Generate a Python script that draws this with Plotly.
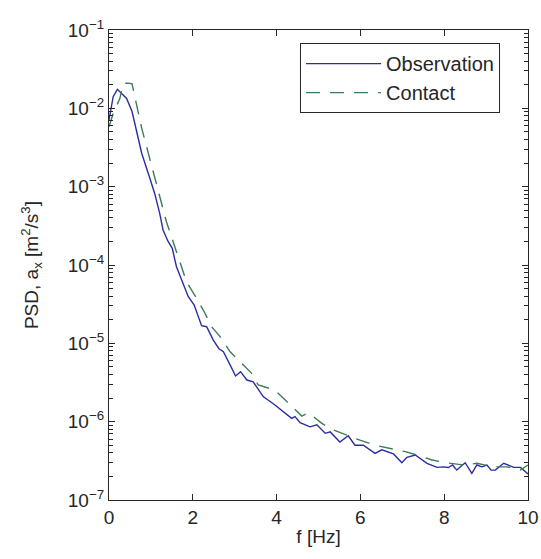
import plotly.graph_objects as go

# Observation (solid blue)
obs_f = [0.0, 0.1, 0.2, 0.42, 0.55, 0.66, 0.78, 0.975, 1.09, 1.21, 1.29, 1.41, 1.51, 1.61,
         1.73, 1.89, 2.03, 2.21, 2.33, 2.49, 2.62, 2.73, 2.89, 3.02, 3.14, 3.29, 3.44, 3.68,
         3.96, 4.16, 4.36, 4.44, 4.56, 4.80, 4.96, 5.16, 5.28, 5.51, 5.71, 5.87, 6.07, 6.35,
         6.51, 6.79, 6.99, 7.11, 7.31, 7.59, 7.83, 7.98, 8.10, 8.20, 8.30, 8.50, 8.66, 8.78,
         8.90, 9.02, 9.12, 9.22, 9.42, 9.66, 9.82, 10.0]
obs_psd = [7.1e-3, 1.41e-2, 1.75e-2, 1.34e-2, 9.1e-3, 5.0e-3, 2.67e-3, 1.28e-3, 8.2e-4, 4.57e-4,
           2.8e-4, 2.0e-4, 1.63e-4, 9.5e-5, 6.45e-5, 3.96e-5, 3.1e-5, 1.68e-5, 1.63e-5, 1.1e-5,
           8.6e-6, 7.8e-6, 5.3e-6, 3.83e-6, 4.35e-6, 3.4e-6, 3.23e-6, 2.09e-6, 1.63e-6, 1.34e-6,
           1.1e-6, 1.16e-6, 9.7e-7, 8.6e-7, 9.1e-7, 7.1e-7, 7.4e-7, 5.5e-7, 6.6e-7, 5.0e-7,
           5.0e-7, 3.94e-7, 4.37e-7, 3.87e-7, 2.99e-7, 3.5e-7, 3.75e-7, 2.94e-7, 2.61e-7, 2.65e-7,
           2.6e-7, 2.8e-7, 2.41e-7, 2.99e-7, 2.19e-7, 2.8e-7, 2.65e-7, 2.8e-7, 2.41e-7, 2.41e-7,
           2.94e-7, 2.61e-7, 2.61e-7, 2.15e-7]

# Contact (dashed green)
con_f = [0.0, 0.1, 0.26, 0.34, 0.45, 0.55, 0.78, 0.9, 1.09, 1.37, 1.61, 1.85, 2.09, 2.25,
         2.45, 2.65, 2.89, 3.12, 3.40, 3.56, 3.96, 4.2, 4.48, 4.6, 4.76, 5.08, 5.36, 5.71,
         5.99, 6.35, 6.71, 7.07, 7.35, 7.71, 8.02, 8.46, 8.78, 9.18, 9.50, 9.82, 10.0]
con_psd = [5.8e-3, 8.6e-3, 1.34e-2, 2.09e-2, 2.1e-2, 2.05e-2, 5.6e-3, 3.2e-3, 1.22e-3, 3.57e-4,
           1.48e-4, 6.1e-5, 3.76e-5, 2.66e-5, 1.63e-5, 1.22e-5, 7.8e-6, 5.8e-6, 4.17e-6, 2.95e-6,
           2.53e-6, 1.9e-6, 1.34e-6, 1.18e-6, 1.3e-6, 9.5e-7, 7.8e-7, 6.6e-7, 5.8e-7, 5.0e-7,
           4.56e-7, 4.14e-7, 3.75e-7, 3.24e-7, 3.0e-7, 2.8e-7, 2.94e-7, 2.65e-7, 2.65e-7, 2.41e-7,
           2.8e-7]

x_ticks = [0, 2, 4, 6, 8, 10]
y_exps = [-7, -6, -5, -4, -3, -2, -1]
y_ticks = [10.0 ** e for e in y_exps]
y_ticktext = ["10<sup>\u2212%d</sup>" % (-e) for e in y_exps]
y_minor = [m * 10.0 ** e for e in range(-7, -1) for m in range(2, 10)]

FONT = "Liberation Sans, Arial, sans-serif"
AX = "#262626"

fig = go.Figure()
fig.add_trace(go.Scatter(x=obs_f, y=obs_psd, mode="lines", name="Observation",
                         line=dict(color="#2a2ea0", width=1.4)))
fig.add_trace(go.Scatter(x=con_f, y=con_psd, mode="lines", name="Contact",
                         line=dict(color="#3c7c5a", width=1.4, dash="14px,10px")))

fig.update_layout(
    width=541, height=559,
    margin=dict(l=109, r=13, t=30, b=59, autoexpand=False),
    paper_bgcolor="white", plot_bgcolor="white",
    font=dict(family=FONT, size=19, color=AX),
    showlegend=True,
    legend=dict(x=0.456, y=0.972, xanchor="left", yanchor="top",
                bordercolor=AX, borderwidth=1, bgcolor="white",
                font=dict(size=20, color=AX), tracegroupgap=0, itemwidth=75),
    xaxis=dict(range=[0, 10], tickvals=x_ticks, ticks="inside", ticklen=6,
               tickcolor=AX, showline=True, linecolor=AX, linewidth=1.2,
               mirror="ticks", showgrid=False, zeroline=False, automargin=False,
               title=dict(text="f [Hz]", standoff=2, font=dict(size=19))),
    yaxis=dict(type="log", range=[-7, -1], tickvals=y_ticks, ticktext=y_ticktext,
               ticks="inside", ticklen=6, tickcolor=AX, showline=True, linecolor=AX,
               linewidth=1.2, mirror="ticks", showgrid=False, zeroline=False,
               automargin=False,
               minor=dict(tickvals=y_minor, ticks="inside", ticklen=3.5, tickcolor=AX,
                          showgrid=False),
               title=dict(text="PSD, a<sub>x</sub> [m<sup>2</sup>/s<sup>3</sup>]",
                          standoff=24, font=dict(size=19))),
)

fig.write_html("out.html", config={"displayModeBar": False},
               post_script="document.body.style.margin='0px';document.body.style.padding='0px';")
